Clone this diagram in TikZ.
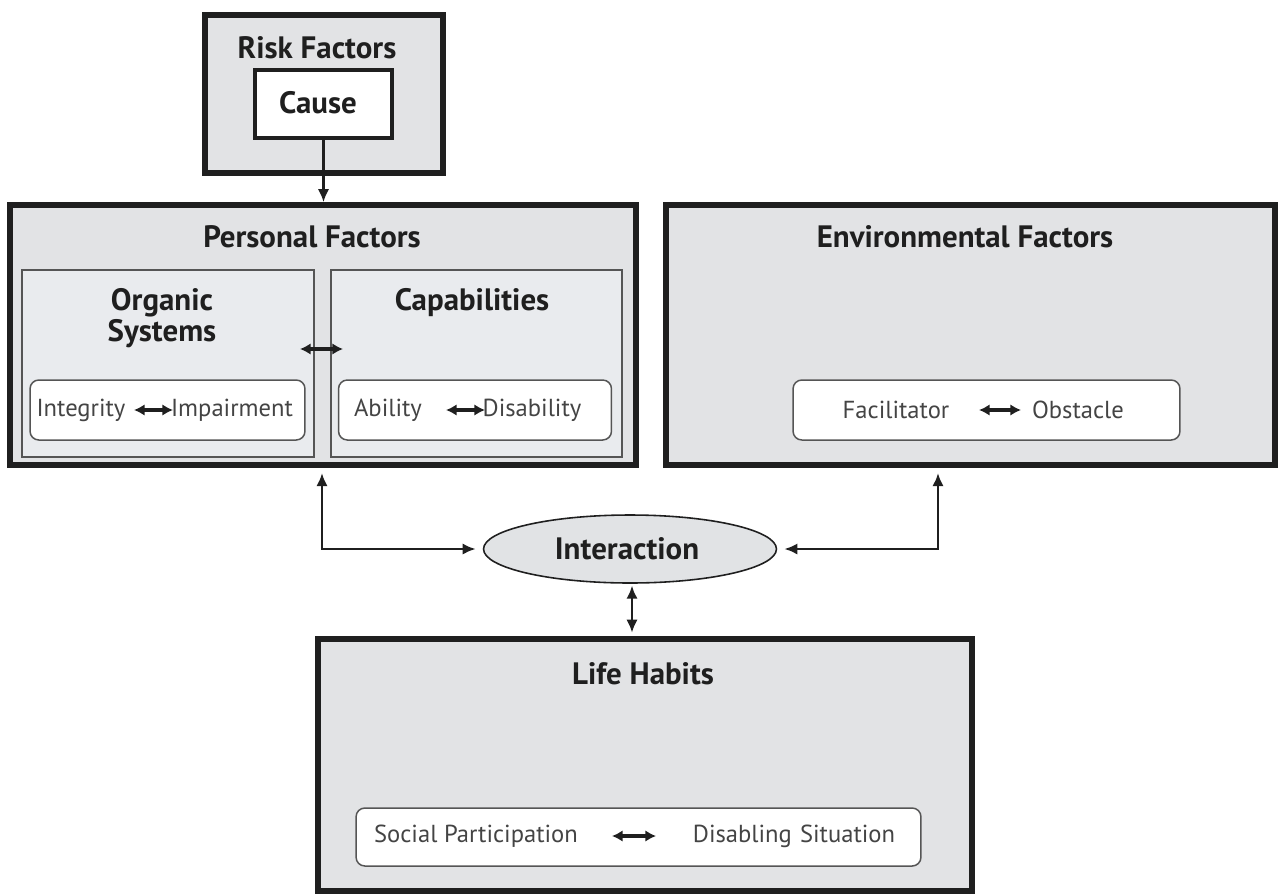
\documentclass[tikz,border=0pt]{standalone}
\usepackage{fontspec}
\setmainfont{PT Sans}
\usetikzlibrary{arrows.meta,shapes.geometric,calc}
\definecolor{ink}{HTML}{1F1F1F}
\definecolor{outerfill}{HTML}{E2E3E5}
\definecolor{panelfill}{HTML}{E9EBEE}
\definecolor{ovalfill}{HTML}{E1E3E5}
\definecolor{pillline}{HTML}{555555}
\definecolor{pilltext}{HTML}{444444}
\tikzset{
  outerbox/.style={draw=ink, fill=outerfill, line width=3.1pt, inner sep=0pt},
  causebox/.style={draw=ink, fill=white, line width=2.3pt, inner sep=0pt},
  panel/.style={draw=pillline, fill=panelfill, line width=0.85pt, inner sep=0pt},
  pill/.style={draw=pillline, fill=white, line width=0.85pt, rounded corners=5pt, inner sep=0pt},
  title/.style={text=ink, font=\fontsize{17.6}{18}\selectfont\bfseries, align=center, inner sep=0pt},
  term/.style={text=pilltext, font=\fontsize{14}{16}\selectfont, inner sep=0pt},
  link/.style={draw=ink, line width=1.6pt, -{Latex[length=7.5pt,width=6.5pt]}},
  dlink/.style={draw=ink, line width=1.6pt, {Latex[length=7.5pt,width=6.5pt]}-{Latex[length=7.5pt,width=6.5pt]}},
  swap/.style={draw=ink, line width=1.9pt, {Latex[length=6pt,width=6.5pt]}-{Latex[length=6pt,width=6.5pt]}}
}
\begin{document}
\begin{tikzpicture}[x=0.02cm, y=-0.02cm]
\useasboundingbox (0,0) rectangle (1281,893);

% Risk factors with the cause inside
\node[outerbox, minimum width=4.76cm, minimum height=3.16cm] (risk) at (324,94) {};
\node[title] (risktitle) at (317,48) {Risk Factors};
\node[causebox, minimum width=2.74cm, minimum height=1.36cm] (cause) at (323.5,104) {};
\node[title] (causetext) at (318,103) {Cause};

% Personal factors
\node[outerbox, minimum width=12.52cm, minimum height=5.2cm] (pf) at (323,335) {};
\node[title] (pftitle) at (312,237) {Personal Factors};
\node[panel, minimum width=5.84cm, minimum height=3.74cm] (organic) at (168,363.5) {};
\node[panel, minimum width=5.82cm, minimum height=3.74cm] (capab) at (476.5,363.5) {};
\node[title] (ostitle) at (162,318) {Organic\\Systems};
\node[title] (captitle) at (472,303) {Capabilities};
\coordinate (pa) at (300,349);
\coordinate (pb) at (343,349);
\draw[swap] (pa) -- (pb);

\node[pill, minimum width=5.5cm, minimum height=1.2cm] (ospill) at (167.5,410) {};
\node[term] (integrity) at (81,410) {Integrity};
\node[term] (impair) at (232,410) {Impairment};
\coordinate (ia) at (134,410);
\coordinate (ib) at (173,410);
\draw[swap] (ia) -- (ib);

\node[pill, minimum width=5.46cm, minimum height=1.2cm] (cappill) at (475,410) {};
\node[term] (ability) at (388,410) {Ability};
\node[term] (disab) at (532,410) {Disability};
\coordinate (aa) at (446,410);
\coordinate (ab) at (485,410);
\draw[swap] (aa) -- (ab);

% Environmental factors
\node[outerbox, minimum width=12.18cm, minimum height=5.2cm] (ef) at (970.5,335) {};
\node[title] (eftitle) at (965,237) {Environmental Factors};
\node[pill, minimum width=7.74cm, minimum height=1.2cm] (efpill) at (986.5,410) {};
\node[term] (facil) at (896,410) {Facilitator};
\node[term] (obst) at (1078,410) {Obstacle};
\coordinate (fa) at (979,410);
\coordinate (fb) at (1021,410);
\draw[swap] (fa) -- (fb);

% Interaction
\node[ellipse, draw=ink, fill=ovalfill, line width=0.9pt, minimum width=5.86cm, minimum height=1.36cm, inner sep=0pt] (inter) at (630,549) {};
\node[title] (intertext) at (627,549) {Interaction};

% Life habits
\node[outerbox, minimum width=13.08cm, minimum height=5.04cm] (lh) at (645,765) {};
\node[title] (lhtitle) at (643,674) {Life Habits};
\node[pill, minimum width=11.3cm, minimum height=1.16cm] (lhpill) at (638.5,837) {};
\node[term] (social) at (476,836) {Social Participation};
\node[term] (disabling) at (794,836) {Disabling\,\,Situation};
\coordinate (sa) at (612,836);
\coordinate (sb) at (656,836);
\draw[swap] (sa) -- (sb);

% Connectors
\draw[link] (cause.south) -- (cause.south |- pf.north);
\draw[dlink, shorten <=3pt, shorten >=4pt] ([xshift=-0.02cm]pf.south) |- (inter.west);
\draw[dlink, shorten <=3pt, shorten >=4pt] ([xshift=-0.65cm]ef.south) |- (inter.east);
\draw[dlink, shorten <=1pt, shorten >=2pt] ([xshift=0.04cm]inter.south) -- ([xshift=0.04cm]inter.south |- lh.north);
\end{tikzpicture}
\end{document}
